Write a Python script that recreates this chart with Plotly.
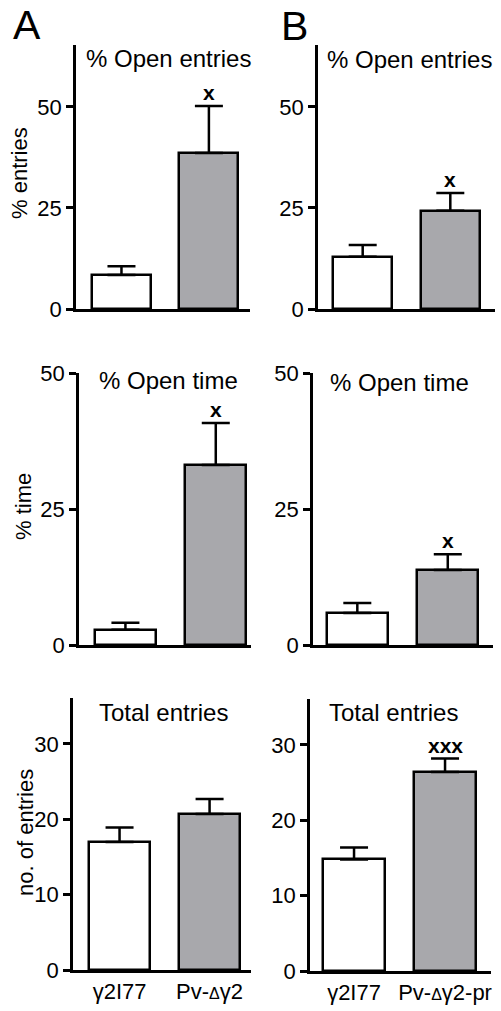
import plotly.graph_objects as go

W, H = 501, 1011

# ---------------- data ----------------
categories_A = ["γ2I77", "Pv-<span style='font-size:16px'>Δ</span>γ2"]
categories_B = ["γ2I77", "Pv-<span style='font-size:16px'>Δ</span>γ2-pr"]

open_entries_A = [8.4, 38.6]
open_entries_A_err = [2.2, 11.6]
open_entries_B = [12.9, 24.3]
open_entries_B_err = [2.9, 4.4]

open_time_A = [2.8, 33.1]
open_time_A_err = [1.3, 7.7]
open_time_B = [5.9, 13.8]
open_time_B_err = [1.8, 2.9]

total_entries_A = [17.0, 20.7]
total_entries_A_err = [1.9, 2.0]
total_entries_B = [14.8, 26.4]
total_entries_B_err = [1.6, 1.8]

sig_open_entries_A = ["", "x"]
sig_open_entries_B = ["", "x"]
sig_open_time_A = ["", "x"]
sig_open_time_B = ["", "x"]
sig_total_A = ["", ""]
sig_total_B = ["", "xxx"]

titles = ["% Open entries", "% Open entries", "% Open time", "% Open time",
          "Total entries", "Total entries"]
y_titles = ["% entries", "% time", "no. of entries"]

FONT = "Liberation Sans, Arial, Helvetica, sans-serif"
BAR_COLORS = ["white", "#a8a8ac"]

# ---------------- layout geometry (pixels) ----------------
panels = [
    dict(vals=open_entries_A, err=open_entries_A_err, sig=sig_open_entries_A, cats=categories_A,
         px=(76, 250), py=(309, 45), xr=[-0.52, 1.47], yr=[0, 65.3], tv=[0, 25, 50],
         tx=84, ty=58, bottom=False),
    dict(vals=open_entries_B, err=open_entries_B_err, sig=sig_open_entries_B, cats=categories_B,
         px=(318, 495), py=(309, 45), xr=[-0.51, 1.51], yr=[0, 65.3], tv=[0, 25, 50],
         tx=325, ty=59, bottom=False),
    dict(vals=open_time_A, err=open_time_A_err, sig=sig_open_time_A, cats=categories_A,
         px=(79, 251), py=(645, 373), xr=[-0.514, 1.39], yr=[0, 50], tv=[0, 25, 50],
         tx=97, ty=380, bottom=False),
    dict(vals=open_time_B, err=open_time_B_err, sig=sig_open_time_B, cats=categories_B,
         px=(313, 493), py=(645, 373), xr=[-0.49, 1.50], yr=[0, 50], tv=[0, 25, 50],
         tx=328, ty=382, bottom=False),
    dict(vals=total_entries_A, err=total_entries_A_err, sig=sig_total_A, cats=categories_A,
         px=(73, 251), py=(970, 698), xr=[-0.517, 1.46], yr=[0, 36.1], tv=[0, 10, 20, 30],
         tx=97, ty=712, bottom=True),
    dict(vals=total_entries_B, err=total_entries_B_err, sig=sig_total_B, cats=categories_B,
         px=(310, 491), py=(971, 699), xr=[-0.484, 1.505], yr=[0, 36.1], tv=[0, 10, 20, 30],
         tx=327, ty=712, bottom=True),
]

fig = go.Figure()
annotations = []

for i, p in enumerate(panels):
    n = i + 1
    xa = "x" if n == 1 else f"x{n}"
    ya = "y" if n == 1 else f"y{n}"
    xs = [0, 1]
    fig.add_trace(go.Bar(
        x=xs, y=p["vals"], width=0.674,
        marker=dict(color=BAR_COLORS, line=dict(color="black", width=2.5)),
        error_y=dict(type="data", array=p["err"], arrayminus=[0, 0], symmetric=False,
                     color="black", thickness=2.5, width=14),
        xaxis=xa, yaxis=ya, showlegend=False, hoverinfo="skip",
    ))
    xkey = "xaxis" if n == 1 else f"xaxis{n}"
    ykey = "yaxis" if n == 1 else f"yaxis{n}"
    fig.update_layout(**{
        xkey: dict(domain=[p["px"][0] / W, p["px"][1] / W], range=p["xr"], anchor=ya,
                   showline=True, linecolor="black", linewidth=2.5, showgrid=False,
                   zeroline=False, fixedrange=True, automargin=False,
                   tickmode="array", tickvals=xs if p["bottom"] else [],
                   ticktext=p["cats"] if p["bottom"] else [],
                   ticks="", tickfont=dict(family=FONT, size=22, color="black")),
        ykey: dict(domain=[1 - p["py"][0] / H, 1 - p["py"][1] / H], range=p["yr"], anchor=xa,
                   showline=True, linecolor="black", linewidth=2.5, showgrid=False,
                   zeroline=False, fixedrange=True, automargin=False,
                   tickmode="array", tickvals=p["tv"], ticks="outside", ticklen=7,
                   tickwidth=2.5, tickcolor="black",
                   tickfont=dict(family=FONT, size=22, color="black")),
    })
    annotations.append(dict(text=titles[i], xref="paper", yref="paper",
                            x=p["tx"] / W, y=1 - p["ty"] / H, xanchor="left", yanchor="middle",
                            showarrow=False, font=dict(family=FONT, size=24, color="black")))
    for j in range(2):
        if p["sig"][j]:
            annotations.append(dict(text="<b>" + p["sig"][j] + "</b>", xref=xa, yref=ya,
                                    x=xs[j], y=p["vals"][j] + p["err"][j],
                                    xanchor="center", yanchor="bottom", yshift=0,
                                    showarrow=False,
                                    font=dict(family=FONT, size=21, color="black")))

for txt, (cx, cy) in zip(y_titles, [(20, 173), (23, 507), (25, 833)]):
    annotations.append(dict(text=txt, xref="paper", yref="paper", x=cx / W, y=1 - cy / H,
                            xanchor="center", yanchor="middle", textangle=-90, showarrow=False,
                            font=dict(family=FONT, size=22, color="black")))

annotations.append(dict(text="A", xref="paper", yref="paper", x=27 / W, y=1 - 25 / H,
                        xanchor="center", yanchor="middle", showarrow=False,
                        font=dict(family=FONT, size=41, color="black")))
annotations.append(dict(text="B", xref="paper", yref="paper", x=294 / W, y=1 - 26 / H,
                        xanchor="center", yanchor="middle", showarrow=False,
                        font=dict(family=FONT, size=41, color="black")))

fig.update_layout(template="none", width=W, height=H,
                  margin=dict(l=0, r=0, t=0, b=0, pad=0, autoexpand=False),
                  paper_bgcolor="white", plot_bgcolor="white",
                  annotations=annotations, bargap=0)

fig.write_html("out.html", config={"displayModeBar": False},
               post_script="document.body.style.margin='0';")
